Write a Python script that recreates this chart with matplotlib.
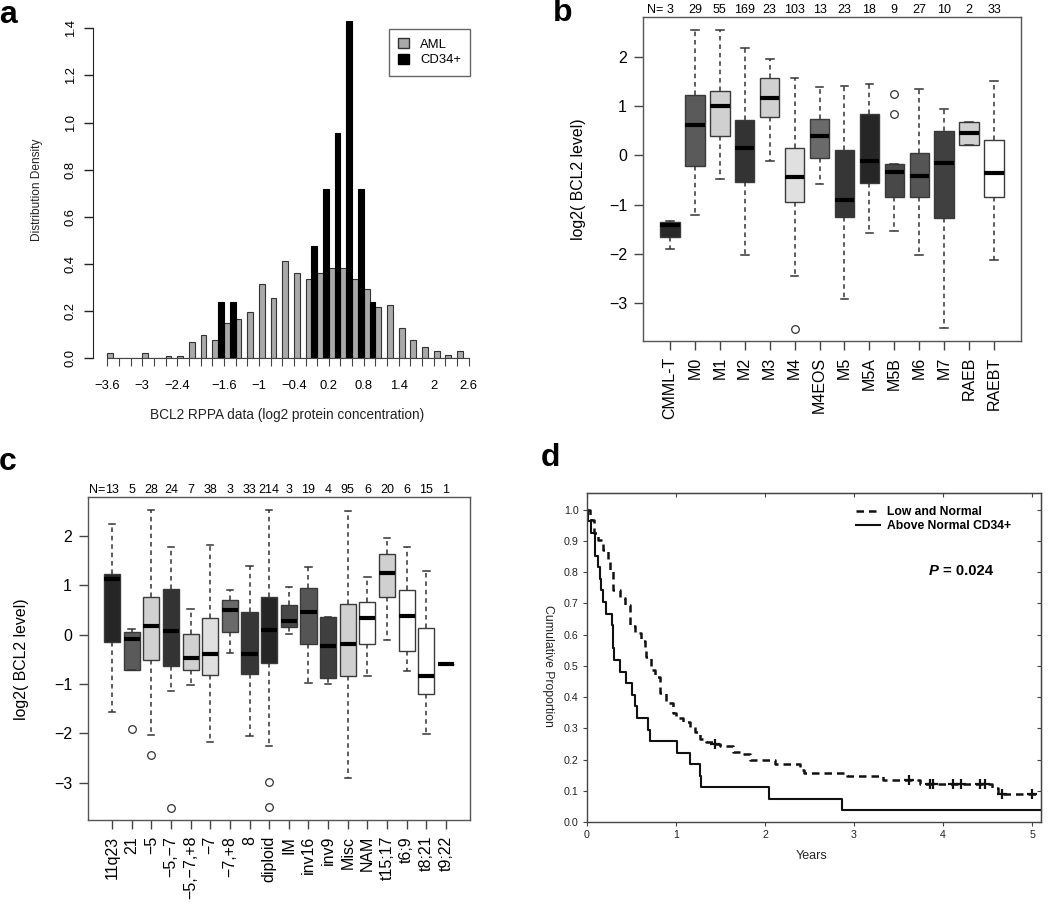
import numpy as np
import matplotlib.pyplot as plt
from matplotlib.patches import Patch
from matplotlib.lines import Line2D

plt.rcParams['font.family'] = ['Liberation Sans', 'DejaVu Sans']
plt.rcParams['axes.unicode_minus'] = True

W, H = 1050, 905

# ---- panel a: histogram densities (bins of 0.2 starting at -3.6)
bin_left = np.round(-3.6 + 0.2 * np.arange(31), 1)
aml_density = [0.021, 0, 0, 0.021, 0, 0.010, 0.010, 0.071, 0.100, 0.079,
               0.149, 0.167, 0.197, 0.314, 0.256, 0.413, 0.364, 0.335, 0.364, 0.383,
               0.383, 0.335, 0.296, 0.216, 0.228, 0.129, 0.079, 0.050, 0.031, 0.013,
               0.031]
cd34_density = [0, 0, 0, 0, 0, 0, 0, 0, 0, 0.239,
                0.239, 0, 0, 0, 0, 0, 0, 0.478, 0.717, 0.955,
                1.43, 0.717, 0.239, 0, 0, 0, 0, 0, 0, 0,
                0]
a_xtick_labels = [-3.6, -3, -2.4, -1.6, -1, -0.4, 0.2, 0.8, 1.4, 2, 2.6]
a_yticks = [0.0, 0.2, 0.4, 0.6, 0.8, 1.0, 1.2, 1.4]

# ---- panel b: FAB subtypes
b_groups = ['CMML-T', 'M0', 'M1', 'M2', 'M3', 'M4', 'M4EOS', 'M5', 'M5A', 'M5B',
            'M6', 'M7', 'RAEB', 'RAEBT']
b_n = [3, 29, 55, 169, 23, 103, 13, 23, 18, 9, 27, 10, 2, 33]
b_whislo = [-1.90, -1.21, -0.47, -2.03, -0.11, -2.45, -0.59, -2.91, -1.58, -1.53,
            -2.03, -3.51, 0.21, -2.13]
b_q1 = [-1.66, -0.22, 0.39, -0.54, 0.77, -0.95, -0.05, -1.25, -0.57, -0.84,
        -0.85, -1.28, 0.21, -0.84]
b_med = [-1.41, 0.61, 1.00, 0.155, 1.17, -0.44, 0.40, -0.91, -0.12, -0.34,
         -0.41, -0.16, 0.45, -0.36]
b_q3 = [-1.36, 1.22, 1.30, 0.71, 1.57, 0.14, 0.74, 0.10, 0.84, -0.18,
        0.04, 0.50, 0.68, 0.31]
b_whishi = [-1.33, 2.54, 2.54, 2.19, 1.95, 1.57, 1.38, 1.41, 1.45, -0.18,
            1.34, 0.94, 0.68, 1.51]
b_fliers = [[], [], [], [], [], [-3.53], [], [], [], [1.24, 0.85], [], [], [], []]
b_fills = ['#292929', '#5a5a5a', '#d0d0d0', '#333333', '#d0d0d0', '#e0e0e0',
           '#6a6a6a', '#363636', '#262626', '#484848', '#555555', '#404040',
           '#d0d0d0', '#ffffff']

# ---- panel c: cytogenetics
c_groups = ['11q23', '21', '\u22125', '\u22125,\u22127', '\u22125,\u22127,+8', '\u22127',
            '\u22127,+8', '8', 'diploid', 'IM', 'inv16', 'inv9', 'Misc', 'NAM',
            't15;17', 't6;9', 't8;21', 't9;22']
c_n = [13, 5, 28, 24, 7, 38, 3, 33, 214, 3, 19, 4, 95, 6, 20, 6, 15, 1]
c_whislo = [-1.57, -0.71, -2.03, -1.15, -1.02, -2.18, -0.38, -2.06, -2.25, 0.02,
            -0.99, -1.01, -2.90, -0.83, -0.11, -0.73, -2.02, -0.60]
c_q1 = [-0.15, -0.71, -0.52, -0.64, -0.71, -0.81, 0.05, -0.80, -0.57, 0.15,
        -0.19, -0.89, -0.85, -0.19, 0.77, -0.33, -1.21, -0.60]
c_med = [1.12, -0.09, 0.18, 0.07, -0.48, -0.39, 0.50, -0.40, 0.09, 0.27,
         0.46, -0.24, -0.20, 0.33, 1.25, 0.38, -0.83, -0.60]
c_q3 = [1.23, 0.045, 0.77, 0.93, 0.01, 0.33, 0.71, 0.45, 0.77, 0.60,
        0.95, 0.35, 0.63, 0.67, 1.63, 0.90, 0.13, -0.60]
c_whishi = [2.24, 0.12, 2.53, 1.78, 0.51, 1.82, 0.91, 1.40, 2.52, 0.96,
            1.37, 0.36, 2.51, 1.16, 1.95, 1.78, 1.29, -0.60]
c_fliers = [[], [-1.91], [-2.45], [-3.52], [], [], [], [], [-2.99, -3.50], [],
            [], [], [], [], [], [], [], []]
c_fills = ['#262626', '#5a5a5a', '#d0d0d0', '#333333', '#d0d0d0', '#e0e0e0',
           '#6a6a6a', '#363636', '#262626', '#484848', '#555555', '#404040',
           '#d0d0d0', '#ffffff', '#d0d0d0', '#ffffff', '#ffffff', '#ffffff']

# ---- panel d: Kaplan-Meier
t_above = [0, 0.015, 0.045, 0.09, 0.127, 0.146, 0.157, 0.176, 0.213, 0.283, 0.29,
           0.305, 0.375, 0.443, 0.51, 0.535, 0.562, 0.685, 0.705, 1.015, 1.16,
           1.27, 1.285, 2.05, 2.86, 5.1]
s_above = [1.0, 0.963, 0.926, 0.852, 0.815, 0.778, 0.741, 0.704, 0.667, 0.630, 0.556,
           0.519, 0.481, 0.444, 0.407, 0.370, 0.333, 0.296, 0.259, 0.222, 0.185,
           0.148, 0.111, 0.074, 0.037, 0.037]
t_low = [0, 0.03, 0.05, 0.075, 0.12, 0.18, 0.236, 0.255, 0.29, 0.367, 0.423, 0.479,
         0.536, 0.61, 0.648, 0.667, 0.723, 0.76, 0.817, 0.891, 0.966, 1.004, 1.079,
         1.154, 1.21, 1.266, 1.341, 1.435, 1.491, 1.64, 1.715, 1.828, 2.11, 2.39,
         2.44, 2.92, 3.33, 3.74, 4.55, 4.62, 5.1]
s_low = [1.0, 0.979, 0.968, 0.925, 0.904, 0.872, 0.834, 0.807, 0.743, 0.717, 0.695,
         0.626, 0.604, 0.578, 0.556, 0.529, 0.487, 0.465, 0.412, 0.380, 0.348, 0.332,
         0.321, 0.305, 0.289, 0.267, 0.257, 0.251, 0.243, 0.225, 0.219, 0.198, 0.185,
         0.166, 0.156, 0.147, 0.134, 0.122, 0.108, 0.090, 0.090]
t_censor = [1.44, 3.62, 3.85, 3.89, 4.11, 4.20, 4.41, 4.47, 4.66, 5.0]


fig = plt.figure(figsize=(W / 100, H / 100), dpi=100)


def px_axes(left, top, right, bottom):
    return fig.add_axes([left / W, 1 - bottom / H, (right - left) / W, (bottom - top) / H])


def minus(v):
    return f'{v:g}'.replace('-', '\u2212')


# ================= a =================
ax = px_axes(92.7, 21, 474.6, 358.3)
ax.bar(bin_left, aml_density, width=0.1, align='edge', color='#a9a9a9',
       edgecolor='#333333', linewidth=0.8, label='AML')
ax.bar(bin_left + 0.1, cd34_density, width=0.1, align='edge', color='black',
       edgecolor='black', linewidth=0.8, label='CD34+')
ax.set_xlim(-3.85, 2.7)
ax.set_ylim(0, 1.431)
for s in ['top', 'right']:
    ax.spines[s].set_visible(False)
ax.spines['left'].set_bounds(0, 1.4)
ax.spines['bottom'].set_bounds(bin_left[0], 2.6)
ax.spines['left'].set_color('#222222')
ax.spines['bottom'].set_color('#444444')
edges = np.round(-3.6 + 0.2 * np.arange(32), 1)
ax.set_xticks(edges)
ax.set_xticklabels([minus(v) if np.isclose(a_xtick_labels, v).any() else ''
                    for v in edges])
ax.tick_params(axis='x', length=5.5, width=0.8, color='#444444',
               labelsize=9.4, pad=10)
ax.set_yticks(a_yticks)
ax.set_yticklabels([f'{v:.1f}' for v in a_yticks], rotation=90, va='center')
ax.tick_params(axis='y', length=6.5, width=1.0, color='#222222', labelsize=9.4, pad=5)
fig.text(287 / W, 1 - 415 / H, 'BCL2 RPPA data (log2 protein concentration)',
         ha='center', va='center', fontsize=9.8, color='#222222')
fig.text(37 / W, 1 - 190 / H, 'Distribution Density', rotation=90,
         ha='center', va='center', fontsize=8.6, color='#222222')
ax.legend(handles=[Patch(facecolor='#a9a9a9', edgecolor='#333333', label='AML'),
                   Patch(facecolor='black', edgecolor='black', label='CD34+')],
          loc='upper left', bbox_to_anchor=(389 / W, 1 - 29 / H),
          bbox_transform=fig.transFigure, fancybox=False, edgecolor='#666666',
          framealpha=1, fontsize=9.4, handlelength=0.8, handleheight=0.8,
          handletextpad=0.9, labelspacing=0.25, borderpad=0.7, borderaxespad=0)


# ================= b and c (box plots) =================
def box_panel(ax, groups, n, whislo, q1, med, q3, whishi, fliers, fills, width):
    pos = np.arange(1, len(groups) + 1)
    stats = [dict(label=g, whislo=a, q1=b, med=c, q3=d, whishi=e, fliers=f)
             for g, a, b, c, d, e, f in zip(groups, whislo, q1, med, q3, whishi, fliers)]
    res = ax.bxp(stats, positions=pos, widths=width, capwidths=width * 0.4,
                 patch_artist=True, manage_ticks=False,
                 boxprops=dict(edgecolor='#3a3a3a', linewidth=1.0),
                 medianprops=dict(color='black', linewidth=3, solid_capstyle='butt'),
                 whiskerprops=dict(color='#333333', linewidth=1.1, linestyle=(0, (3, 2.5))),
                 capprops=dict(color='#333333', linewidth=1.1),
                 flierprops=dict(marker='o', markersize=5.5, markerfacecolor='none',
                                 markeredgecolor='#333333', markeredgewidth=0.9))
    for patch, col in zip(res['boxes'], fills):
        patch.set_facecolor(col)
    ax.set_xticks(pos)
    ax.set_xticklabels(groups, rotation=90)
    ax.set_yticks([-3, -2, -1, 0, 1, 2])
    ax.set_yticklabels([minus(v) for v in [-3, -2, -1, 0, 1, 2]])
    ax.tick_params(length=6.5, width=1.0, color='#444444', labelsize=11.5, pad=5)
    for s in ax.spines.values():
        s.set_color('#555555')
        s.set_linewidth(1.0)
    for p, k in zip(pos, n):
        ax.annotate(str(k), (p, 1), xycoords=('data', 'axes fraction'), xytext=(0, 1),
                    textcoords='offset points', ha='center', va='bottom', fontsize=9)
    ax.annotate('N=', (1, 1), xycoords=('data', 'axes fraction'), xytext=(-5, 1),
                textcoords='offset points', ha='right', va='bottom', fontsize=9)


ax = px_axes(643, 17, 1021, 341)
box_panel(ax, b_groups, b_n, b_whislo, b_q1, b_med, b_q3, b_whishi, b_fliers,
          b_fills, 0.78)
ax.set_xlim(-0.08, 15.08)
ax.set_ylim(-3.77, 2.81)
fig.text(579 / W, 1 - 179 / H, 'log2( BCL2 level)', rotation=90,
         ha='center', va='center', fontsize=11.4)

ax = px_axes(88, 497, 470, 820)
box_panel(ax, c_groups, c_n, c_whislo, c_q1, c_med, c_q3, c_whishi, c_fliers,
          c_fills, 0.82)
ax.set_xlim(-0.22, 19.22)
ax.set_ylim(-3.76, 2.79)
fig.text(22 / W, 1 - 659 / H, 'log2( BCL2 level)', rotation=90,
         ha='center', va='center', fontsize=11.4)

# ================= d =================
ax = px_axes(587, 493, 1041, 822)
ax.step(t_low, s_low, where='post', color='#111111', linewidth=1.8,
        linestyle=(0, (3, 2)))
ax.step(t_above, s_above, where='post', color='#111111', linewidth=1.5)
s_cens = [s_low[np.searchsorted(t_low, tc, side='right') - 1] for tc in t_censor]
ax.plot(t_censor, s_cens, linestyle='none', marker='+', markersize=7,
        markeredgewidth=1.6, color='#111111')
ax.set_xlim(0, 5.1)
ax.set_ylim(0, 1.053)
ax.set_xticks(range(6))
ax.set_yticks(np.round(np.arange(11) * 0.1, 1))
ax.set_yticklabels([f'{v:.1f}' for v in np.arange(11) * 0.1])
ax.tick_params(length=3, width=0.8, color='#444444', labelsize=7.7, pad=3,
               labelcolor='#222222')
for s in ax.spines.values():
    s.set_color('#444444')
    s.set_linewidth(1.0)
sec = ax.secondary_xaxis('top')
sec.set_xticks(range(6))
sec.tick_params(direction='in', length=3, width=0.8, color='#444444', labeltop=False)
sec = ax.secondary_yaxis('right')
sec.set_yticks(np.round(np.arange(11) * 0.1, 1))
sec.tick_params(direction='in', length=3, width=0.8, color='#444444', labelright=False)
ax.legend(handles=[Line2D([], [], color='#111111', linewidth=1.8, linestyle=(0, (3, 2))),
                   Line2D([], [], color='#111111', linewidth=1.5)],
          labels=['Low and Normal', 'Above Normal CD34+'],
          loc='upper left', bbox_to_anchor=(856 / W, 1 - 506 / H),
          bbox_transform=fig.transFigure, frameon=False,
          prop=dict(weight='bold', size=8.7), handlelength=2.0, handletextpad=0.6,
          labelspacing=0.2, borderpad=0, borderaxespad=0)
fig.text(929 / W, 1 - 571 / H, 'P', ha='left', va='center', fontsize=10.7,
         fontweight='bold', fontstyle='italic')
fig.text(943 / W, 1 - 571 / H, '= 0.024', ha='left', va='center', fontsize=10.7,
         fontweight='bold')
fig.text(812 / W, 1 - 856 / H, 'Years', ha='center', va='center', fontsize=9,
         color='#222222')
fig.text(548 / W, 1 - 666 / H, 'Cumulative Proportion', rotation=270,
         ha='center', va='center', fontsize=8.8, color='#222222')

# panel letters
for letter, x, y in [('a', 8, 15), ('b', 563, 13), ('c', 8, 462), ('d', 550, 458)]:
    fig.text(x / W, 1 - y / H, letter, ha='center', va='center', fontsize=23,
             fontweight='bold')

fig.savefig('out.png', dpi=100)
